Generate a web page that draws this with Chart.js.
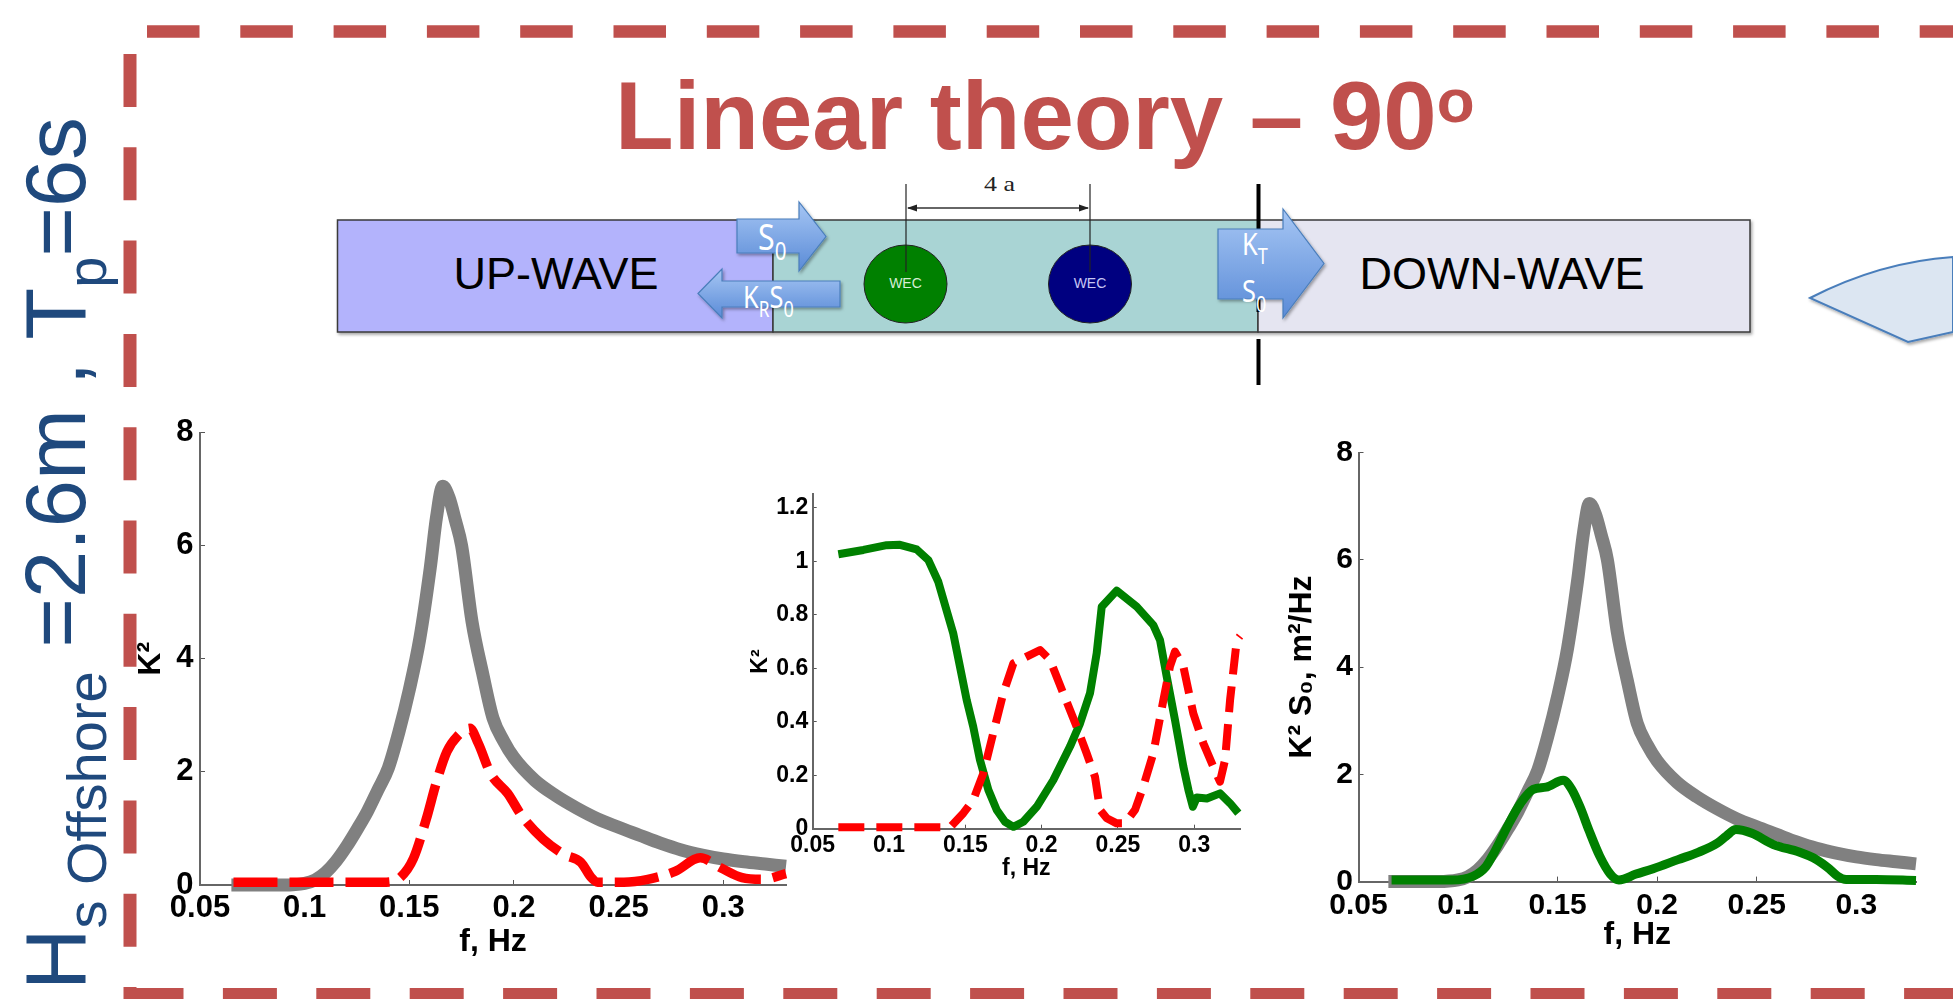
<!DOCTYPE html>
<html>
<head>
<meta charset="utf-8">
<script src="https://cdn.jsdelivr.net/npm/chart.js@4.4.1/dist/chart.umd.min.js"></script>
<style>
html,body{margin:0;padding:0;background:#fff;}
body{width:1953px;height:999px;position:relative;overflow:hidden;font-family:'Liberation Sans',Arial,sans-serif;}
#deco{position:absolute;left:0;top:0;}
canvas{position:absolute;}
#c1{left:100px;top:400px;}
#c2{left:730px;top:470px;}
#c3{left:1270px;top:420px;}
</style>
</head>
<body>
<svg id="deco" width="1953" height="999" xmlns="http://www.w3.org/2000/svg">
  <defs>
    <linearGradient id="arrowGrad" x1="0" y1="0" x2="0" y2="1">
      <stop offset="0" stop-color="#A6C6F4"/>
      <stop offset="1" stop-color="#5A8BD7"/>
    </linearGradient>
    <filter id="sh" x="-5%" y="-10%" width="112%" height="130%">
      <feDropShadow dx="1.5" dy="2" stdDeviation="1.4" flood-color="#000" flood-opacity="0.35"/>
    </filter>
  </defs>
  <!-- dashed frame -->
  <g stroke="#C0504D" fill="none">
    <line x1="147" y1="31.5" x2="1953" y2="31.5" stroke-width="12.5" stroke-dasharray="52.5 40.8"/>
    <line x1="130" y1="54" x2="130" y2="999" stroke-width="13" stroke-dasharray="53 40.3"/>
    <line x1="129.5" y1="994" x2="1953" y2="994" stroke-width="12" stroke-dasharray="54 39.4"/>
  </g>
  <!-- rotated left caption -->
  <text transform="translate(85,990) rotate(-90)" font-family="'Liberation Sans',Arial,sans-serif" font-size="85" fill="#1F497D">H<tspan font-size="56" dy="21">s Offshore</tspan><tspan font-size="85" dy="-21"> =2.6m , T</tspan><tspan font-size="56" dy="21">p</tspan><tspan font-size="85" dy="-21">=6s</tspan></text>
  <!-- title -->
  <text x="615" y="149" font-family="'Liberation Sans',Arial,sans-serif" font-weight="bold" font-size="96" fill="#C0504D">Linear theory – 90<tspan font-size="62" dy="-27">o</tspan></text>
  <!-- diagram regions -->
  <g filter="url(#sh)">
    <rect x="337.5" y="220" width="435.5" height="112" fill="#B3B3FC" stroke="#3a3a3a" stroke-width="1.5"/>
    <rect x="773" y="220" width="485" height="112" fill="#A9D4D4" stroke="#3a3a3a" stroke-width="1.5"/>
    <rect x="1258" y="220" width="492" height="112" fill="#E5E5F1" stroke="#3a3a3a" stroke-width="1.5"/>
  </g>
  <text x="556" y="289" text-anchor="middle" font-family="'Liberation Sans',Arial,sans-serif" font-size="45" fill="#000">UP-WAVE</text>
  <text x="1502" y="289" text-anchor="middle" font-family="'Liberation Sans',Arial,sans-serif" font-size="45" fill="#000">DOWN-WAVE</text>
  <!-- barrier line -->
  <line x1="1258.5" y1="184" x2="1258.5" y2="312" stroke="#000" stroke-width="4"/>
  <line x1="1258.5" y1="339" x2="1258.5" y2="385" stroke="#000" stroke-width="4"/>
  <!-- WECs -->
  <ellipse cx="905.5" cy="284" rx="41.5" ry="39" fill="#008000" stroke="#222" stroke-width="1"/>
  <ellipse cx="1090" cy="284" rx="41.5" ry="39" fill="#000080" stroke="#222" stroke-width="1"/>
  <text x="905.5" y="288" text-anchor="middle" font-family="'Liberation Sans',Arial,sans-serif" font-size="14" fill="#D6EED6">WEC</text>
  <text x="1090" y="288" text-anchor="middle" font-family="'Liberation Sans',Arial,sans-serif" font-size="14" fill="#C6C6F4">WEC</text>
  <line x1="906" y1="184" x2="906" y2="272" stroke="#222" stroke-width="1.2"/>
  <line x1="1090" y1="184" x2="1090" y2="272" stroke="#222" stroke-width="1.2"/>
  <line x1="908" y1="208" x2="1088" y2="208" stroke="#333" stroke-width="1.5"/>
  <polygon points="907,208 917,204.5 917,211.5" fill="#222"/>
  <polygon points="1089,208 1079,204.5 1079,211.5" fill="#222"/>
  <text x="984" y="191" textLength="31" lengthAdjust="spacingAndGlyphs" font-family="'Liberation Serif','Times New Roman',serif" font-size="21" fill="#222">4 a</text>
  <!-- arrows -->
  <g filter="url(#sh)" fill="url(#arrowGrad)" stroke="#4A7EBB" stroke-width="1.2">
    <polygon points="737,219 799,219 799,202 826,236.5 799,271 799,253 737,253"/>
    <polygon points="698,293.5 722,269 722,281 840,281 840,307 722,307 722,318"/>
    <polygon points="1218,229 1283,229 1283,209 1324,263.5 1283,318 1283,299 1218,299"/>
  </g>
  <g font-family="'Noto Sans','DejaVu Sans',sans-serif" fill="#fff">
    <text transform="translate(758,250) scale(0.82,1)" font-size="37">S<tspan font-size="25" dy="10">0</tspan></text>
    <text transform="translate(743,308) scale(0.82,1)" font-size="31">K<tspan font-size="21" dy="9">R</tspan><tspan font-size="31" dy="-9">S</tspan><tspan font-size="22" dy="9">0</tspan></text>
    <text transform="translate(1242,255) scale(0.82,1)" font-size="31">K<tspan font-size="22" dy="9">T</tspan></text>
    <text transform="translate(1242,302) scale(0.82,1)" font-size="31">S<tspan font-size="22" dy="10">0</tspan></text>
  </g>
  <!-- right callout fragment -->
  <path d="M1810,298 Q1880,262 1953,257 L1953,332 L1908,342 Z" fill="#DCE6F2" stroke="#4A7EBB" stroke-width="2" filter="url(#sh)"/>
</svg>

<canvas id="c1" width="700" height="570"></canvas>
<canvas id="c2" width="530" height="420"></canvas>
<canvas id="c3" width="670" height="560"></canvas>

<script>
// ---------- data ----------
const fTickVals = [0.05, 0.1, 0.15, 0.2, 0.25, 0.3];
const fTickLabels = ['0.05', '0.1', '0.15', '0.2', '0.25', '0.3'];
const specTickVals = [0, 2, 4, 6, 8];
const specTickLabels = ['0', '2', '4', '6', '8'];
const coefTickVals = [0, 0.2, 0.4, 0.6, 0.8, 1, 1.2];
const coefTickLabels = ['0', '0.2', '0.4', '0.6', '0.8', '1', '1.2'];

// Incident spectrum S0 (grey)
const fS0 = [0.065,0.09,0.1,0.105,0.11,0.115,0.12,0.125,0.13,0.135,0.14,0.145,0.15,0.155,0.16,0.163,0.166,0.169,0.172,0.175,0.18,0.185,0.19,0.195,0.2,0.21,0.22,0.23,0.24,0.25,0.26,0.27,0.28,0.29,0.3,0.31,0.32,0.33];
const S0 = [0,0,0.03,0.09,0.22,0.42,0.68,0.98,1.3,1.68,2.07,2.7,3.45,4.35,5.6,6.5,7.05,6.85,6.45,6.0,4.65,3.75,2.95,2.55,2.25,1.85,1.58,1.36,1.17,1.02,0.88,0.74,0.62,0.53,0.46,0.41,0.37,0.33];

// Reflected spectrum (red dashed, left chart)
const fRefl = [0.066,0.1,0.139,0.1456,0.152,0.158,0.163,0.168,0.173,0.179,0.183,0.189,0.197,0.204,0.214,0.224,0.232,0.237,0.24,0.2525,0.264,0.277,0.289,0.299,0.309,0.319,0.33];
const reflSpec = [0.05,0.05,0.05,0.13,0.47,1.15,1.82,2.36,2.63,2.77,2.5,1.96,1.62,1.21,0.81,0.54,0.40,0.13,0.05,0.05,0.1,0.24,0.48,0.3,0.13,0.1,0.2];

// Transmission coefficient K_T^2 (green, middle chart)
const fKT = [0.0668,0.0832,0.0985,0.1072,0.1181,0.1258,0.1323,0.1421,0.1509,0.1552,0.1596,0.1651,0.1706,0.176,0.1815,0.188,0.1968,0.2077,0.2186,0.2252,0.2317,0.2361,0.2394,0.2492,0.2623,0.2732,0.2776,0.282,0.2874,0.2929,0.2962,0.2991,0.3017,0.3083,0.3169,0.3235,0.3289];
const KT2 = [1.026,1.042,1.06,1.061,1.044,1.004,0.923,0.73,0.481,0.381,0.257,0.145,0.07,0.026,0.007,0.026,0.082,0.182,0.307,0.394,0.506,0.656,0.83,0.89,0.83,0.761,0.705,0.568,0.406,0.232,0.145,0.082,0.117,0.113,0.132,0.095,0.058];

// Reflection coefficient K_R^2 (red dashed, middle chart)
const fKR = [0.0668,0.14,0.1487,0.1552,0.1618,0.1683,0.1749,0.1815,0.1902,0.199,0.2055,0.2142,0.223,0.2295,0.235,0.2383,0.2427,0.2492,0.2547,0.2612,0.2666,0.2732,0.2798,0.2841,0.2874,0.2929,0.2994,0.306,0.3125,0.3169,0.3202,0.3235,0.3279,0.33];
const KR2 = [0.005,0.005,0.058,0.107,0.207,0.357,0.506,0.618,0.643,0.668,0.631,0.506,0.381,0.282,0.194,0.07,0.039,0.02,0.02,0.07,0.157,0.282,0.481,0.606,0.662,0.606,0.431,0.319,0.232,0.176,0.257,0.481,0.705,0.72];

// Transmitted spectrum (green, right chart)
const fTrans = [0.0666,0.0968,0.1075,0.114,0.1183,0.1248,0.1312,0.1377,0.1442,0.1528,0.1571,0.1614,0.1657,0.1711,0.1765,0.1808,0.1894,0.198,0.2105,0.2209,0.2303,0.2347,0.2395,0.2476,0.2584,0.2713,0.28,0.2864,0.2907,0.2949,0.31,0.33];
const transSpec = [0.03,0.03,0.1,0.28,0.55,1.03,1.45,1.72,1.76,1.89,1.72,1.38,0.96,0.48,0.14,0.03,0.14,0.24,0.41,0.55,0.72,0.85,0.97,0.9,0.69,0.55,0.41,0.24,0.1,0.04,0.04,0.02];

// ---------- chart construction ----------
const FONT = "'Liberation Sans', Arial, Helvetica, sans-serif";
Chart.defaults.font.family = FONT;
Chart.defaults.color = '#000';

function pts(fs, vs) { return fs.map((f, i) => ({ x: f, y: vs[i] })); }

function xScale(o) {
  return {
    type: 'linear', position: 'bottom', min: 0.05, max: 0.33,
    afterBuildTicks: s => { s.ticks = fTickVals.map(v => ({ value: v })); },
    afterFit: s => { s.height = o.h; },
    ticks: { autoSkip: false, maxRotation: 0, minRotation: 0, padding: o.tickPad,
             font: { size: o.tickSize, weight: 'bold' }, color: '#000',
             callback: (v, i) => fTickLabels[i] },
    grid: { display: true, drawOnChartArea: false, drawTicks: true, tickLength: -o.tickLen, color: '#555', lineWidth: 1 },
    border: { display: true, color: '#666', width: 2 },
    title: { display: true, text: 'f, Hz', color: '#000', font: { size: o.titleSize, weight: 'bold' },
             padding: { top: 0, bottom: o.titlePad } }
  };
}
function yScale(o) {
  return {
    type: 'linear', position: 'left', min: o.min, max: o.max,
    afterBuildTicks: s => { s.ticks = o.vals.map(v => ({ value: v })); },
    afterFit: s => { s.width = o.w; },
    ticks: { autoSkip: false, padding: o.tickPad, font: { size: o.tickSize, weight: 'bold' }, color: '#000',
             callback: (v, i) => o.labels[i] },
    grid: { display: true, drawOnChartArea: false, drawTicks: true, tickLength: -o.tickLen, color: '#555', lineWidth: 1 },
    border: { display: true, color: '#666', width: 2 },
    title: { display: true, text: o.title, color: '#000', font: { size: o.titleSize, weight: 'bold' },
             padding: { top: o.titlePad, bottom: 0 } }
  };
}
function line(data, color, width, dash, smooth) {
  return { data, borderColor: color, backgroundColor: color, borderWidth: width, borderDash: dash || [],
           pointRadius: 0, fill: false, clip: false, borderCapStyle: 'butt', borderJoinStyle: 'round',
           cubicInterpolationMode: smooth ? 'monotone' : 'default', tension: 0 };
}
function baseOpts(pad, scales) {
  return { responsive: false, animation: false, events: [],
           layout: { padding: pad },
           plugins: { legend: { display: false }, tooltip: { enabled: false } },
           scales };
}

// Left: incident + reflected spectra
new Chart(document.getElementById('c1'), {
  type: 'line',
  data: { datasets: [
    line(pts(fRefl, reflSpec), '#FF0000', 9.5, [44, 12], true),
    line(pts(fS0, S0), '#808080', 13, null, true)
  ] },
  options: baseOpts({ left: 0, right: 14, top: 32.5, bottom: 0 }, {
    x: xScale({ h: 85, tickPad: 9.4, tickLen: 5, tickSize: 31, titleSize: 32, titlePad: 8.8 }),
    y: yScale({ min: 0, max: 8, vals: specTickVals, labels: specTickLabels, w: 100, tickPad: 11.5, tickLen: 5,
                tickSize: 31, title: 'K²', titleSize: 32, titlePad: 31.8 })
  })
});

// Middle: coefficients
new Chart(document.getElementById('c2'), {
  type: 'line',
  data: { datasets: [
    line(pts(fKR, KR2), '#FF0000', 8, [26, 12], false),
    line(pts(fKT, KT2), '#008000', 8, null, false)
  ] },
  options: baseOpts({ left: 0, right: 20, top: 24.3, bottom: 0 }, {
    x: xScale({ h: 61.3, tickPad: 6.8, tickLen: 4, tickSize: 23, titleSize: 23, titlePad: 7.7 }),
    y: yScale({ min: 0, max: 1.25, vals: coefTickVals, labels: coefTickLabels, w: 82.7, tickPad: 8.4, tickLen: 4,
                tickSize: 23, title: 'K²', titleSize: 23, titlePad: 16.7 })
  })
});

// Right: incident + transmitted spectra
new Chart(document.getElementById('c3'), {
  type: 'line',
  data: { datasets: [
    line(pts(fTrans, transSpec), '#008000', 9, null, true),
    line(pts(fS0, S0), '#808080', 13, null, true)
  ] },
  options: baseOpts({ left: 0, right: 24, top: 32.5, bottom: 0 }, {
    x: xScale({ h: 98.4, tickPad: 11, tickLen: 5, tickSize: 30, titleSize: 32, titlePad: 25.8 }),
    y: yScale({ min: 0, max: 8, vals: specTickVals, labels: specTickLabels, w: 88.5, tickPad: 10.5, tickLen: 5,
                tickSize: 30, title: 'K² S₀, m²/Hz', titleSize: 32, titlePad: 12.8 })
  })
});
</script>
</body>
</html>
